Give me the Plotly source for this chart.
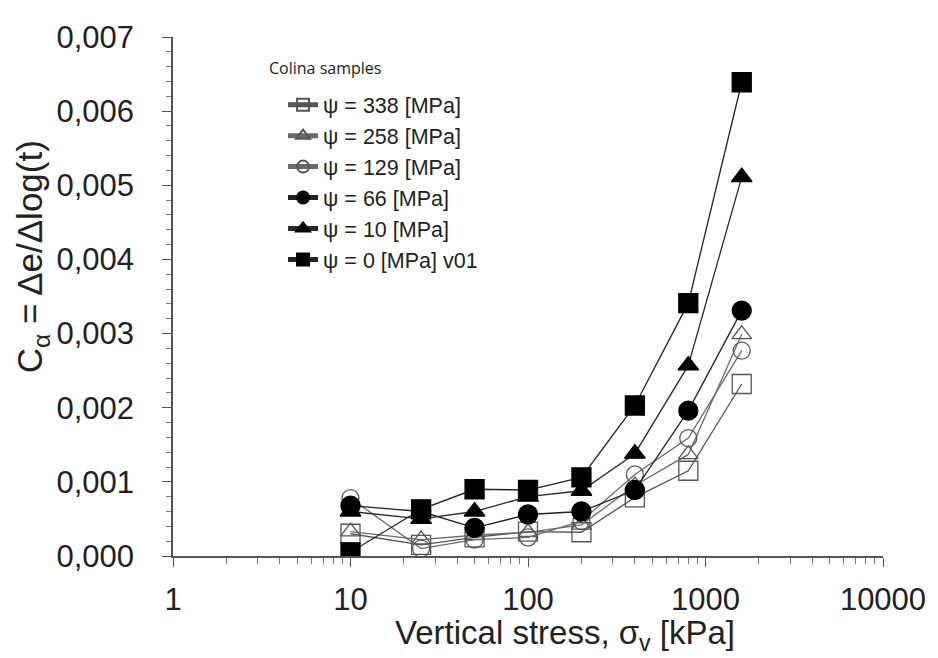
import plotly.graph_objects as go

stress = [10, 25, 50, 100, 200, 400, 800, 1600]

psi_338 = [0.00030, 0.00015, 0.00025, 0.00033, 0.00032, 0.00079, 0.00115, 0.00232]
psi_258 = [0.00033, 0.00022, 0.00028, 0.00032, 0.00042, 0.00095, 0.00137, 0.00299]
psi_129 = [0.00078, 0.00010, 0.00022, 0.00025, 0.00047, 0.00110, 0.00159, 0.00277]
psi_66 = [0.00068, 0.00060, 0.00038, 0.00056, 0.00060, 0.00089, 0.00196, 0.00331]
psi_10 = [0.00060, 0.00050, 0.00060, 0.00080, 0.00088, 0.00138, 0.00257, 0.00511]
psi_0 = [0.00005, 0.00063, 0.00090, 0.00089, 0.00106, 0.00203, 0.00341, 0.00639]

names = ["ψ = 338 [MPa]", "ψ = 258 [MPa]", "ψ = 129 [MPa]",
         "ψ = 66 [MPa]", "ψ = 10 [MPa]", "ψ = 0 [MPa] v01"]

x_tickvals = [1, 10, 100, 1000, 10000]
x_ticktext = ["1", "10", "100", "1000", "10000"]
y_tickvals = [0, 0.001, 0.002, 0.003, 0.004, 0.005, 0.006, 0.007]
y_ticktext = ["0,000", "0,001", "0,002", "0,003", "0,004", "0,005", "0,006", "0,007"]

series = [psi_338, psi_258, psi_129, psi_66, psi_10, psi_0]
symbols = ["square-open", "triangle-up-open", "circle-open", "circle", "triangle-up", "square"]
sizes = [19, 17, 17, 19, 18, 19]
line_colors = ["#555555", "#6a6a6a", "#6a6a6a", "#222222", "#2a2a2a", "#222222"]
marker_colors = ["#555555", "#555555", "#555555", "#000000", "#000000", "#000000"]

fig = go.Figure()
for ys, nm, sym, sz, lc, mc in zip(series, names, symbols, sizes, line_colors, marker_colors):
    fig.add_trace(go.Scatter(
        x=stress, y=ys, name=nm, mode="lines+markers",
        line=dict(color=lc, width=1.3),
        marker=dict(symbol=sym, size=sz, color=mc, line=dict(color=mc, width=1.3)),
    ))

font_main = "Liberation Sans, Arial, sans-serif"
txt = "#222222"

fig.update_layout(
    width=930, height=650,
    margin=dict(l=165, r=49, t=23, b=102),
    paper_bgcolor="white", plot_bgcolor="white",
    font=dict(family=font_main, size=31, color=txt),
    showlegend=True,
    legend=dict(
        x=0.155, y=0.909, xanchor="left", yanchor="top",
        font=dict(family=font_main, size=21.5, color=txt),
        bgcolor="rgba(0,0,0,0)", itemsizing="constant",
        tracegroupgap=0,
    ),
    xaxis=dict(
        type="log", range=[0, 4],
        tickmode="array", tickvals=x_tickvals, ticktext=x_ticktext,
        ticks="outside", ticklen=9, tickwidth=1.3, tickcolor="#555555",
        ticklabelstandoff=6, ticklabeloverflow="allow",
        showline=True, linecolor="#555555", linewidth=1.5,
        showgrid=False, zeroline=False,
        tickfont=dict(size=31, color=txt),
        minor=dict(ticks="outside", ticklen=6, tickwidth=1, tickcolor="#777777",
                   dtick="D1", showgrid=False),
    ),
    yaxis=dict(
        range=[0, 0.007],
        tickmode="array", tickvals=y_tickvals, ticktext=y_ticktext,
        ticks="outside", ticklen=9, tickwidth=1.3, tickcolor="#555555",
        ticklabelstandoff=22, ticklabeloverflow="allow",
        showline=True, linecolor="#555555", linewidth=1.5,
        showgrid=False, zeroline=False,
        tickfont=dict(size=31, color=txt),
        minor=dict(ticks="outside", ticklen=5, tickwidth=1, tickcolor="#777777",
                   dtick=0.0002, showgrid=False),
    ),
    yaxis2=dict(
        range=[0, 0.007], overlaying="y", anchor="x",
        tickmode="array", tickvals=y_tickvals, ticks="inside", ticklen=8,
        tickwidth=1.3, tickcolor="#555555",
        showticklabels=False, showline=False, showgrid=False, zeroline=False,
    ),
    annotations=[
        dict(
            text="Colina samples", xref="paper", yref="paper", x=0.214, y=0.940,
            xanchor="center", yanchor="middle", showarrow=False,
            font=dict(family="Open Sans, sans-serif", size=16, color=txt),
        ),
        dict(
            text="Vertical stress, σ<sub>v</sub> [kPa]", xref="paper", yref="paper",
            x=0.552, y=-0.152, xanchor="center", yanchor="middle", showarrow=False,
            font=dict(family=font_main, size=33, color=txt),
        ),
        dict(
            text="C<sub>α</sub> = Δe/Δlog(t)", xref="paper", yref="paper",
            x=-0.199, y=0.577, xanchor="center", yanchor="middle", showarrow=False,
            textangle=-90,
            font=dict(family=font_main, size=35, color=txt),
        ),
    ],
)

fig.write_html("out.html")
